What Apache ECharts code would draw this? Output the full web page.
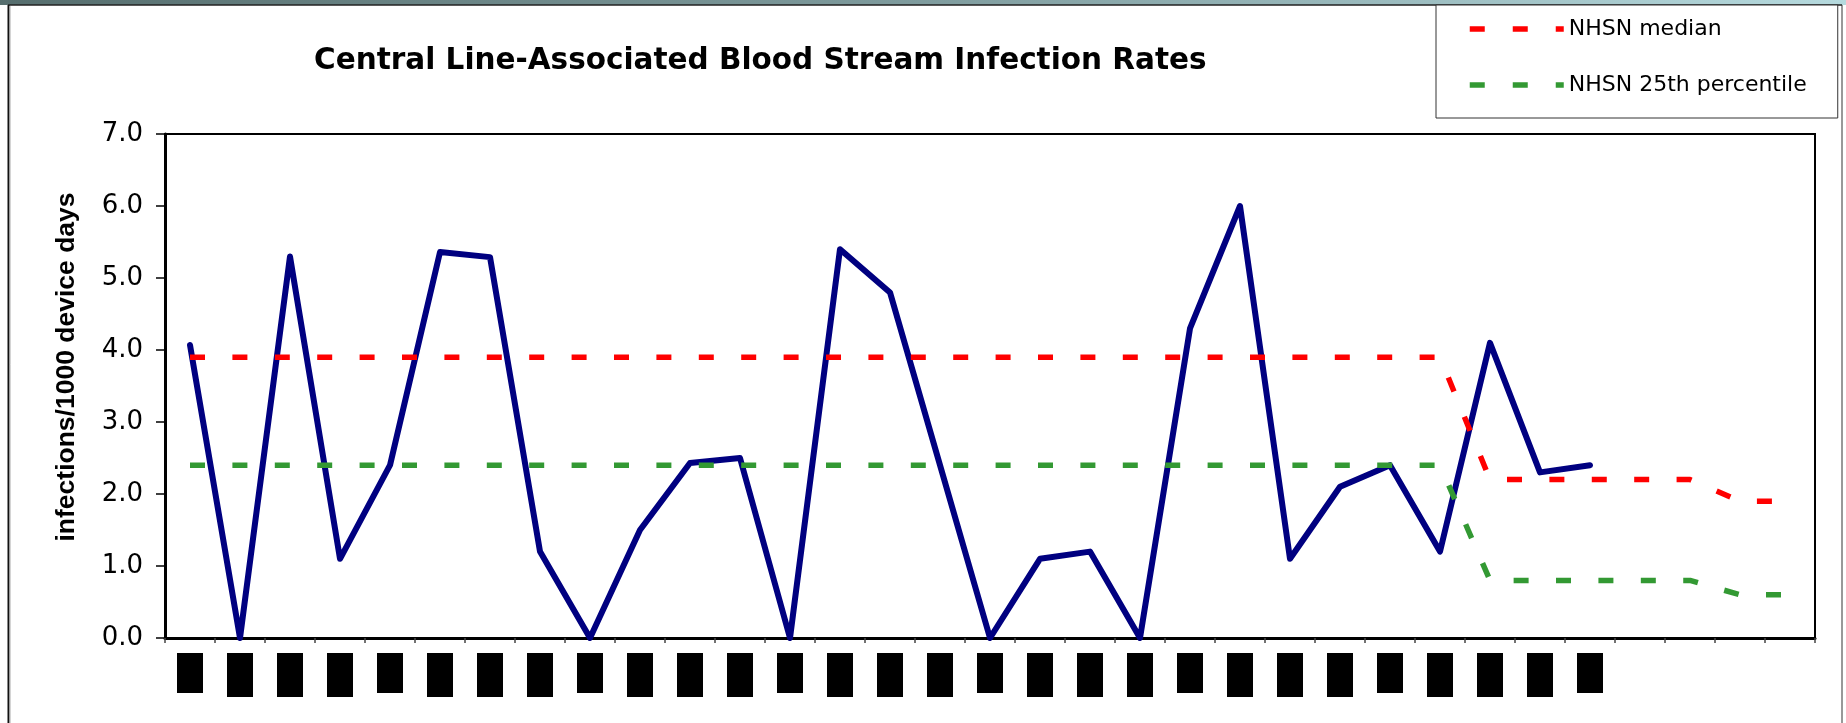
<!DOCTYPE html>
<html>
<head>
<meta charset="utf-8">
<script src="https://cdn.jsdelivr.net/npm/echarts@6/dist/echarts.min.js"></script>
<style>
html,body{margin:0;padding:0;background:#fff;}
#chart{width:1846px;height:723px;}
</style>
</head>
<body>
<div id="chart"></div>
<script>
// Period labels (redacted as black boxes in the reference)
const periods = ['1','2','3','4','5','6','7','8','9','10','11','12','13','14','15','16','17','18','19','20','21','22','23','24','25','26','27','28','29','','','',''];
// Facility CLABSI rate (infections per 1000 device days)
const rateValues = [4.07, 0, 5.3, 1.1, 2.4, 5.36, 5.29, 1.2, 0, 1.5, 2.43, 2.5, 0, 5.4, 4.8, 2.4, 0, 1.1, 1.2, 0, 4.3, 6.0, 1.1, 2.1, 2.4, 1.2, 4.1, 2.3, 2.4];
// NHSN benchmarks
const nhsnMedian = [3.9,3.9,3.9,3.9,3.9,3.9,3.9,3.9,3.9,3.9,3.9,3.9,3.9,3.9,3.9,3.9,3.9,3.9,3.9,3.9,3.9,3.9,3.9,3.9,3.9,3.9,2.2,2.2,2.2,2.2,2.2,1.9,1.9];
const nhsn25th = [2.4,2.4,2.4,2.4,2.4,2.4,2.4,2.4,2.4,2.4,2.4,2.4,2.4,2.4,2.4,2.4,2.4,2.4,2.4,2.4,2.4,2.4,2.4,2.4,2.4,2.4,0.8,0.8,0.8,0.8,0.8,0.6,0.6];
const yTicks = [0, 1, 2, 3, 4, 5, 6, 7];

const chart = echarts.init(document.getElementById('chart'), null, {renderer: 'canvas'});
const dash = [15, 27.4];
chart.setOption({
  animation: false,
  backgroundColor: '#fff',
  graphic: [
    {type: 'rect', z: -10, silent: true, shape: {x: 0, y: 0, width: 1846, height: 5},
     style: {fill: new echarts.graphic.LinearGradient(0, 0, 1, 0, [{offset: 0, color: '#566e6e'}, {offset: 0.5, color: '#7f9c9e'}, {offset: 1, color: '#b6dade'}])}},
    {type: 'line', z: -10, silent: true, shape: {x1: 8, y1: 5, x2: 1842, y2: 5}, style: {stroke: '#222', lineWidth: 1.5}},
    {type: 'line', z: -10, silent: true, shape: {x1: 8.5, y1: 5, x2: 8.5, y2: 723}, style: {stroke: '#111', lineWidth: 2}},
    {type: 'line', z: -10, silent: true, shape: {x1: 10, y1: 6, x2: 10, y2: 723}, style: {stroke: '#aaa', lineWidth: 1}},
    {type: 'line', z: -10, silent: true, shape: {x1: 1842, y1: 5, x2: 1842, y2: 723}, style: {stroke: '#333', lineWidth: 1}}
  ],
  title: {
    text: 'Central Line-Associated Blood Stream Infection Rates',
    left: 314, top: 46, padding: 0,
    textStyle: {fontFamily: 'DejaVu Sans', fontWeight: 'bold', fontSize: 29.5, color: '#000'}
  },
  legend: {
    orient: 'vertical', left: 1436, top: 5,
    padding: [13, 31, 22, 31],
    itemWidth: 94, itemHeight: 22, itemGap: 34,
    backgroundColor: '#fff', borderColor: '#333', borderWidth: 1,
    itemStyle: {opacity: 0},
    lineStyle: {width: 5.5, type: [15, 28]},
    textStyle: {fontFamily: 'DejaVu Sans', fontSize: 22, color: '#000'},
    data: ['NHSN median', 'NHSN 25th percentile']
  },
  grid: {left: 165, right: 31, top: 134, bottom: 85, show: true, borderColor: '#000', borderWidth: 2, backgroundColor: 'transparent', containLabel: false, outerBoundsMode: 'none'},
  xAxis: {
    type: 'category', data: periods, boundaryGap: true,
    axisLine: {lineStyle: {color: '#000', width: 3}},
    axisTick: {show: true, length: 5, interval: 0, lineStyle: {color: '#444', width: 1.5}},
    axisLabel: {
      interval: 0, margin: 15,
      formatter: function (v, i) { if (v === '') return ''; return (i % 4 === 0 ? '{s|' : '{t|') + v + '}'; },
      rich: {
        s: {width: 26, height: 40, backgroundColor: '#000', color: '#000', fontSize: 10, align: 'center'},
        t: {width: 26, height: 44, backgroundColor: '#000', color: '#000', fontSize: 10, align: 'center'}
      }
    },
    splitLine: {show: false}
  },
  yAxis: {
    type: 'value', min: yTicks[0], max: yTicks[yTicks.length - 1], interval: 1,
    name: 'infections/1000 device days', nameLocation: 'middle', nameRotate: 90, nameGap: 85,
    nameTextStyle: {fontFamily: 'Liberation Sans', fontWeight: 'bold', fontSize: 26.5, color: '#000', padding: [0, 0, 0, 38]},
    axisLine: {show: true, lineStyle: {color: '#000', width: 3}},
    axisTick: {show: true, length: 9, lineStyle: {color: '#000', width: 1.5}},
    axisLabel: {margin: 22, fontFamily: 'DejaVu Sans', fontSize: 26, color: '#000', formatter: function (v) { return v.toFixed(1); }},
    splitLine: {show: false}
  },
  series: [
    {name: 'Rate', type: 'line', data: rateValues, symbol: 'none', z: 2,
     lineStyle: {color: '#000080', width: 6, cap: 'round', join: 'round'}, itemStyle: {color: '#000080'}},
    {name: 'NHSN median', type: 'line', data: nhsnMedian, symbol: 'none', z: 3,
     lineStyle: {color: '#ff0000', width: 5.5, type: dash}, itemStyle: {color: '#ff0000'}},
    {name: 'NHSN 25th percentile', type: 'line', data: nhsn25th, symbol: 'none', z: 3,
     lineStyle: {color: '#339933', width: 5.5, type: dash}, itemStyle: {color: '#339933'}}
  ]
});
</script>
</body>
</html>
